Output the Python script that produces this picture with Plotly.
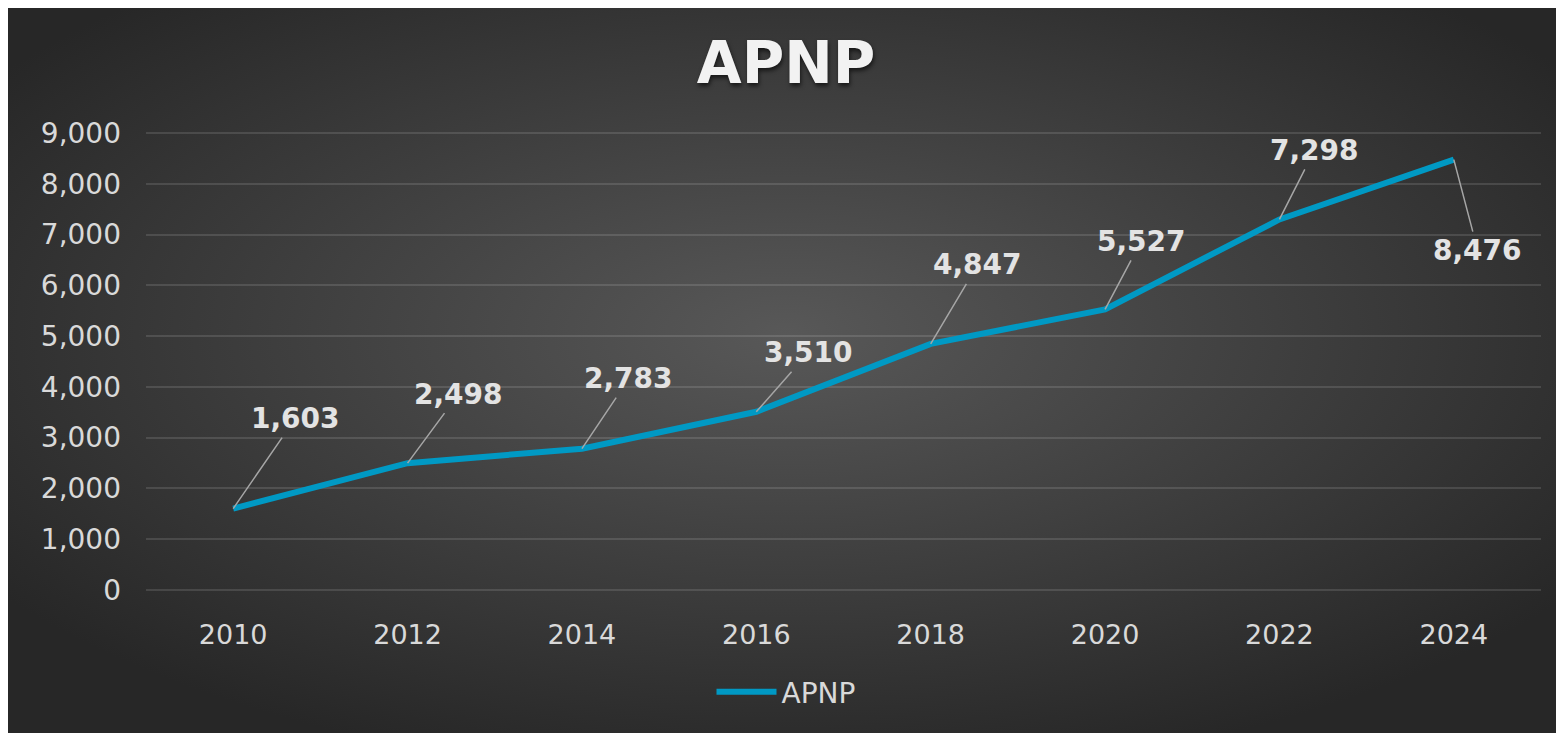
import base64
import plotly.graph_objects as go

years = ["2010", "2012", "2014", "2016", "2018", "2020", "2022", "2024"]
values = [1603, 2498, 2783, 3510, 4847, 5527, 7298, 8476]
label_dx = [62, 51, 47, 52, 47, 36, 35, 24]
label_dy = [-90, -69, -70, -59, -79, -68, -69, 91]
y_ticks = [0, 1000, 2000, 3000, 4000, 5000, 6000, 7000, 8000, 9000]

W, H = 1556, 725
PAD = 3  # px of extra room above 9000 and below 0 so edge gridlines render
ML, MR, MT, MB = 138, 23, 125 - PAD, 143 - PAD
PW, PH = W - ML - MR, H - MT - MB
UNIT = 9000 / (PH - 2 * PAD)

FONT = "DejaVu Sans"
TXT = "#d9d9d9"
LINE = "#0099c4"

svg = (
    '<svg xmlns="http://www.w3.org/2000/svg" width="1556" height="725" viewBox="0 0 1556 725" preserveAspectRatio="none">'
    '<defs><radialGradient id="g" cx="0.5" cy="0.45" r="0.62" gradientUnits="objectBoundingBox">'
    '<stop offset="0" stop-color="#585858"/><stop offset="1" stop-color="#272727"/></radialGradient></defs>'
    '<rect x="0" y="0" width="1556" height="725" fill="url(#g)"/></svg>'
)
bg_src = "data:image/svg+xml;base64," + base64.b64encode(svg.encode()).decode()

fig = go.Figure()
fig.add_trace(go.Scatter(
    x=years, y=values, mode="lines", name="APNP",
    line=dict(color=LINE, width=6),
))

annotations = []
for i, (yr, v, dx, dy) in enumerate(zip(years, values, label_dx, label_dy)):
    annotations.append(dict(
        x=i, y=v, xref="x", yref="y", text=f"{v:,}",
        showarrow=True, arrowhead=0, arrowwidth=1.5, arrowcolor="#a6a6a6",
        ax=dx, ay=dy,
        font=dict(family=FONT, size=28, color="#e3e3e3", weight="bold"),
        borderpad=2,
    ))

fig.add_layout_image(dict(
    source=bg_src, xref="paper", yref="paper",
    x=-ML / PW, y=1 + MT / PH, sizex=W / PW, sizey=H / PH,
    xanchor="left", yanchor="top", sizing="stretch", layer="below",
))

fig.update_layout(
    annotations=annotations,
    width=W, height=H,
    margin=dict(l=ML, r=MR, t=MT, b=MB, pad=0),
    paper_bgcolor="#333333", plot_bgcolor="rgba(0,0,0,0)",
    title=dict(
        text="APNP", x=0.5, xref="container", xanchor="center",
        y=1 - 55 / H, yref="container", yanchor="middle",
        font=dict(family=FONT, size=58, color="#f2f2f2", weight="bold",
                  shadow="1px 3px 4px rgba(0,0,0,0.6)"),
    ),
    xaxis=dict(
        type="category", range=[-0.5, 7.5], showgrid=False, zeroline=False,
        showline=False, ticks="", tickfont=dict(family=FONT, size=27, color=TXT),
        ticklabelstandoff=26 - PAD,
    ),
    yaxis=dict(
        range=[-PAD * UNIT, 9000 + PAD * UNIT], tickvals=y_ticks, tickformat=",d",
        showgrid=True, gridcolor="rgba(255,255,255,0.12)", gridwidth=1.5,
        zeroline=False, showline=False, ticks="",
        tickfont=dict(family=FONT, size=28, color=TXT), ticklabelstandoff=24,
    ),
    showlegend=True,
    legend=dict(
        orientation="h", x=0.5, xanchor="center", xref="container",
        y=1 - (692 - 8) / H, yanchor="middle", yref="container", itemwidth=60,
        font=dict(family=FONT, size=28, color=TXT), bgcolor="rgba(0,0,0,0)",
    ),
)

fig.write_html("out.html")
